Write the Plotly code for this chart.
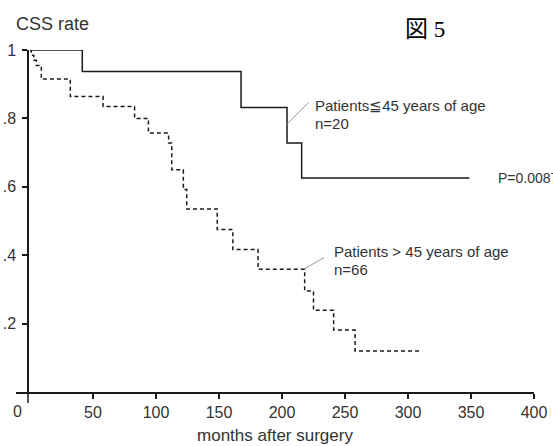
import plotly.graph_objects as go

# Kaplan-Meier step data (months, CSS rate)
young_months = [0, 41.5, 167.5, 204, 215.6, 348.7]
young_rate = [1.0, 0.937, 0.832, 0.728, 0.626, 0.626]

old_months = [0, 1, 3, 5, 9, 32, 58, 83, 94, 110, 112.5, 121.7, 124.4, 148.6,
              161, 181, 218, 225, 241, 258, 309.5]
old_rate = [1.0, 0.985, 0.97, 0.955, 0.915, 0.864, 0.835, 0.80, 0.757, 0.728,
            0.65, 0.592, 0.535, 0.475, 0.417, 0.359, 0.295, 0.239, 0.181, 0.12, 0.12]

x_ticks = [50, 100, 150, 200, 250, 300, 350, 400]
y_ticks = [0.2, 0.4, 0.6, 0.8, 1.0]
y_ticktext = [".2", ".4", ".6", ".8", "1"]

FONT = "Liberation Sans, Arial, sans-serif"
TXT = "#333333"
LINE = "#1a1a1a"

fig = go.Figure()
fig.add_trace(go.Scatter(x=young_months, y=young_rate, mode="lines",
                         line=dict(shape="hv", color=LINE, width=1.5),
                         showlegend=False, hoverinfo="skip"))
fig.add_trace(go.Scatter(x=old_months, y=old_rate, mode="lines",
                         line=dict(shape="hv", color=LINE, width=1.5, dash="4px,3px"),
                         showlegend=False, hoverinfo="skip"))

L, R, T, B = 16, 19, 50, 54
W, H = 553, 446
pw = W - L - R
ph = H - T - B
yaxis_px = 28
ypos = (yaxis_px - L) / pw

fig.update_layout(
    width=W, height=H,
    margin=dict(l=L, r=R, t=T, b=B, autoexpand=False),
    paper_bgcolor="white", plot_bgcolor="white",
    font=dict(family=FONT, color=TXT),
    xaxis=dict(range=[-11.1, 400], showgrid=False, zeroline=False, automargin=False,
               showline=True, linecolor=LINE, linewidth=1.5,
               ticks="outside", ticklen=5, tickwidth=2, tickcolor=LINE,
               tickvals=x_ticks, tickfont=dict(size=16, family=FONT, color=TXT),
               title=dict(text="months after surgery", font=dict(size=17, family=FONT, color=TXT),
                          standoff=9)),
    yaxis=dict(range=[0, 1], showgrid=False, zeroline=False, automargin=False,
               anchor="free", position=ypos,
               showline=True, linecolor=LINE, linewidth=1.5,
               ticks="outside", ticklen=5, tickwidth=2, tickcolor=LINE,
               tickvals=y_ticks, ticktext=y_ticktext,
               tickfont=dict(size=16, family=FONT, color=TXT),
               ticklabelstandoff=3),
)

# extension of the y axis line below the x axis
fig.add_shape(type="line", xref="paper", yref="paper",
              x0=ypos, x1=ypos, y0=0, y1=-11 / ph,
              line=dict(color=LINE, width=1.5))

# leader lines for group labels
fig.add_shape(type="line", xref="x", yref="y", x0=204.2, y0=0.784, x1=220.9, y1=0.846,
              line=dict(color="#9a9a9a", width=1))
fig.add_shape(type="line", xref="x", yref="y", x0=218.3, y0=0.361, x1=233.3, y1=0.393,
              line=dict(color="#9a9a9a", width=1))

def px_x(p):
    return (p - L) / pw

def px_y(p):
    return (H - B - p) / ph

ann = [
    dict(text="CSS rate", xref="paper", yref="paper", x=px_x(14), y=px_y(23.5),
         xanchor="left", yanchor="middle", font=dict(size=18, color=TXT, family=FONT)),
    dict(text="図 5", xref="paper", yref="paper", x=px_x(425), y=px_y(29),
         xanchor="center", yanchor="middle",
         font=dict(size=23, color="#000000", family="Liberation Serif, Noto Sans CJK JP, serif")),
    dict(text="0", xref="paper", yref="paper", x=px_x(17), y=px_y(411),
         xanchor="center", yanchor="middle", font=dict(size=16, color=TXT, family=FONT)),
    dict(text="P=0.0087", xref="x", yref="y", x=369.8, y=0.627,
         xanchor="left", yanchor="middle", font=dict(size=14, color=TXT, family=FONT)),
    dict(text="Patients≦45 years of age", xref="x", yref="y", x=224.8, y=0.837,
         xanchor="left", yanchor="middle", font=dict(size=15, color=TXT, family=FONT)),
    dict(text="n=20", xref="x", yref="y", x=224.8, y=0.784,
         xanchor="left", yanchor="middle", font=dict(size=15, color=TXT, family=FONT)),
    dict(text="Patients > 45 years of age", xref="x", yref="y", x=239.4, y=0.412,
         xanchor="left", yanchor="middle", font=dict(size=15, color=TXT, family=FONT)),
    dict(text="n=66", xref="x", yref="y", x=239.4, y=0.357,
         xanchor="left", yanchor="middle", font=dict(size=15, color=TXT, family=FONT)),
]
for a in ann:
    a["showarrow"] = False
    fig.add_annotation(**a)

fig.write_html("out.html")
